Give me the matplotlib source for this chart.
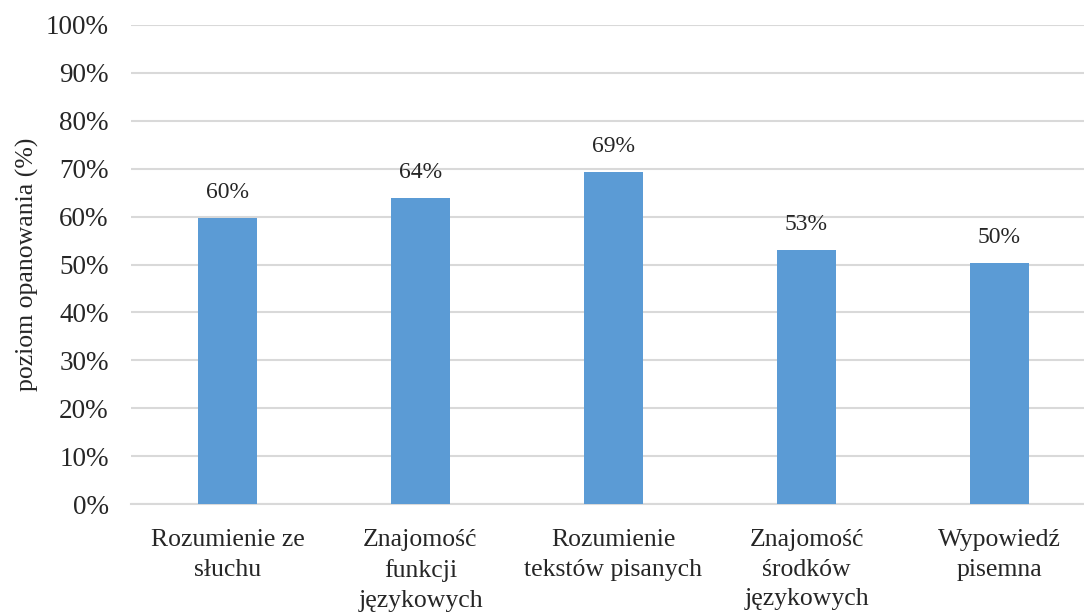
import matplotlib.pyplot as plt
from matplotlib.ticker import PercentFormatter

# Dane
kategorie = ['Rozumienie ze\nsłuchu', 'Znajomość\nfunkcji\njęzykowych',
             'Rozumienie\ntekstów pisanych', 'Znajomość\nśrodków\njęzykowych',
             'Wypowiedź\npisemna']
wartosci = [59.7, 63.9, 69.3, 53.0, 50.3]
etykiety = ['60%', '64%', '69%', '53%', '50%']
yticks = [0, 10, 20, 30, 40, 50, 60, 70, 80, 90, 100]

plt.rcParams['font.family'] = ['Liberation Serif', 'DejaVu Serif']
kolor_tekstu = '#262626'

fig = plt.figure(figsize=(10.84, 6.12), dpi=100)
ax = fig.add_axes([131 / 1084, 1 - 504 / 612, 953 / 1084, 479 / 612])

x = range(len(kategorie))
bars = ax.bar(x, wartosci, width=0.31, color='#5B9BD5', zorder=3)

for b, lab in zip(bars, etykiety):
    ax.annotate(lab, (b.get_x() + b.get_width() / 2, b.get_height()),
                xytext=(0, 11), textcoords='offset points',
                ha='center', va='bottom', fontsize=17, color=kolor_tekstu)

ax.set_xlim(-0.5, -0.5 + 953 / 193)
ax.set_ylim(0, 100)
ax.set_yticks(yticks)
ax.yaxis.set_major_formatter(PercentFormatter(decimals=0))
ax.set_xticks(list(x))
ax.set_xticklabels(kategorie, fontsize=18.5, linespacing=1.45)
ax.tick_params(axis='both', length=0, colors=kolor_tekstu)
ax.tick_params(axis='y', labelsize=19.5, pad=16)
ax.tick_params(axis='x', pad=18)

ax.grid(axis='y', color='#d9d9d9', linewidth=1.5, zorder=0)
for s in ['top', 'right', 'left']:
    ax.spines[s].set_visible(False)
ax.spines['bottom'].set_color('#d9d9d9')
ax.spines['bottom'].set_linewidth(1.5)

ax.set_ylabel('poziom opanowania (%)', fontsize=18.5, color=kolor_tekstu, labelpad=5)

plt.savefig('out.png', dpi=100)
